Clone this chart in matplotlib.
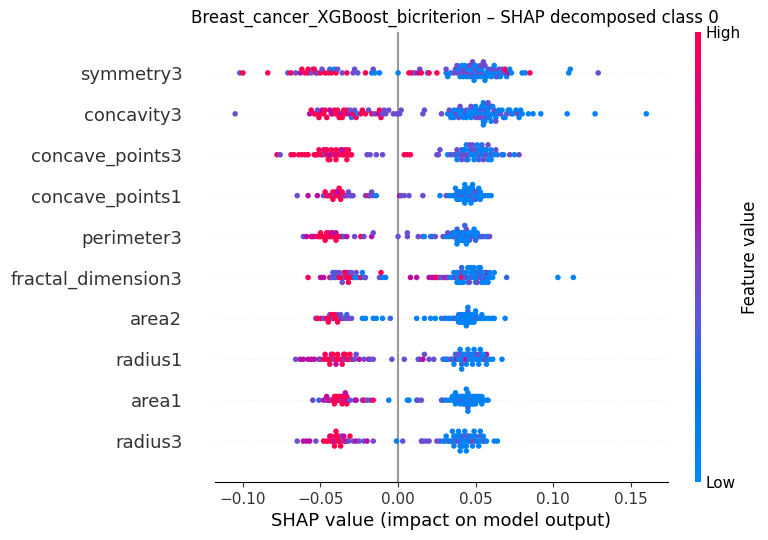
import numpy as np
import matplotlib
matplotlib.use("Agg")
import matplotlib.pyplot as plt
from matplotlib.colors import LinearSegmentedColormap

# Feature names, top to bottom
features = ["symmetry3", "concavity3", "concave_points3", "concave_points1", "perimeter3",
            "fractal_dimension3", "area2", "radius1", "area1", "radius3"]

# SHAP values (x1000) and feature-value colour level (0 = low, 9 = high)
symmetry3_shap = [-102, -100, -84, -71, -69, -66, -63, -62, -60, -58, -56, -55, -53, -52, -50, -49, -45, -44, -43, -41, -40, -36, -33, -29, -28, -26, -21, -17, -16, -15, -12,
                  0, 7, 9, 11, 13, 14, 15, 19, 20, 25, 31, 31, 32, 34, 36, 37, 38, 39, 40, 41, 42, 42, 43, 44, 44, 45, 45, 46, 47, 47, 48, 48, 49, 50, 50, 51, 52, 52, 53, 54, 54, 55, 56, 56, 57, 58, 59, 60, 61, 62, 63, 64, 65, 66, 67, 68, 69, 70, 71, 72, 73, 80, 82, 85, 110, 111, 129,
                  38, 41, 43, 46, 48, 50, 53, 55, 57, 60, 62, 64, 66, -58, -54, -47, -39]
symmetry3_val = [5, 9, 9, 5, 9, 5, 7, 9, 9, 9, 5, 5, 9, 5, 9, 5, 9, 3, 9, 1, 9, 5, 9, 5, 5, 5, 9, 1, 5, 1, 1,
                 1, 9, 9, 5, 7, 5, 9, 1, 9, 9, 1, 5, 1, 1, 5, 5, 5, 1, 1, 5, 5, 1, 5, 5, 1, 5, 1, 1, 5, 1, 3, 1, 1, 1, 5, 1, 5, 1, 1, 5, 1, 1, 5, 1, 1, 3, 1, 5, 1, 5, 1, 1, 5, 1, 5, 5, 9, 1, 7, 1, 1, 1, 1, 9, 1, 1, 5,
                 5, 1, 1, 5, 5, 1, 5, 5, 1, 1, 1, 5, 1, 9, 9, 9, 5]

concavity3_shap = [-105, -57, -56, -54, -53, -52, -50, -49, -48, -47, -43, -42, -41, -40, -39, -37, -35, -34, -33, -32, -31, -30, -29, -28, -27, -26, -24, -23, -21, -19, -17, -15, -13, -12, -11, -10, -9, -8, -6, -3, -1, 1, 2,
                   16, 17, 28, 32, 33, 34, 35, 36, 37, 38, 39, 40, 41, 42, 43, 44, 45, 46, 47, 48, 49, 50, 51, 52, 53, 53, 54, 54, 55, 55, 56, 56, 57, 57, 58, 58, 59, 60, 60, 61, 62, 63, 64, 66, 67, 68, 70, 71, 73, 74, 76, 77, 79, 80, 84, 87, 92, 109, 127, 160,
                   36, 40, 44, 47, 50, 52, 55, 56, 58, 61, 63, 65, 69, 72, 78, -51, -46, -44, -38, -36]
concavity3_val = [5, 7, 9, 9, 9, 5, 9, 7, 9, 9, 9, 7, 9, 9, 9, 7, 9, 9, 9, 7, 5, 3, 9, 5, 9, 1, 9, 9, 9, 5, 9, 5, 7, 9, 9, 5, 5, 5, 5, 5, 5, 5, 5,
                  5, 5, 5, 1, 5, 1, 1, 1, 5, 1, 5, 1, 1, 1, 3, 5, 1, 1, 1, 1, 1, 5, 1, 1, 1, 3, 5, 1, 1, 1, 1, 3, 5, 1, 1, 1, 1, 5, 1, 1, 5, 1, 1, 5, 1, 1, 5, 1, 5, 1, 1, 5, 1, 1, 1, 1, 1, 1, 1, 1,
                  1, 5, 1, 5, 1, 5, 1, 1, 5, 1, 5, 1, 1, 1, 1, 9, 9, 7, 9, 9]

concave_points3_shap = [-78, -76, -69, -67, -64, -62, -60, -58, -54, -53, -52, -50, -49, -48, -47, -46, -46, -45, -44, -43, -42, -41, -40, -39, -38, -37, -36, -35, -34, -33, -32, -31, -30, -20, -18, -14, -10, 4, 6, 8,
                        25, 26, 27, 32, 34, 36, 37, 38, 39, 40, 41, 41, 42, 43, 43, 44, 44, 45, 46, 47, 47, 48, 49, 49, 50, 50, 51, 52, 52, 53, 53, 54, 55, 55, 56, 57, 57, 58, 59, 60, 61, 62, 64, 67, 68, 72, 75, 78,
                        38, 42, 45, 46, 48, 51, 54, 56, 58, 60, 63, -51, -47, -44, -40, -36, -33]
concave_points3_val = [9, 5, 9, 9, 9, 9, 9, 9, 9, 9, 9, 9, 9, 7, 5, 9, 9, 9, 7, 9, 7, 9, 9, 7, 9, 9, 9, 9, 9, 9, 9, 9, 9, 5, 5, 5, 5, 9, 9, 9,
                       5, 5, 5, 1, 5, 1, 5, 5, 1, 3, 5, 5, 5, 5, 1, 5, 1, 5, 1, 1, 3, 1, 5, 1, 1, 5, 1, 1, 3, 5, 1, 1, 1, 5, 3, 5, 1, 1, 1, 1, 5, 1, 1, 5, 1, 5, 1, 5,
                       1, 1, 1, 5, 5, 1, 3, 1, 5, 1, 5, 9, 9, 9, 9, 7, 9]

concave_points1_shap = [-65, -58, -52, -48, -47, -46, -45, -44, -43, -42, -41, -40, -39, -38, -37, -37, -36, -35, -34, -33, -32, -31, -30, -29, -21, -19, -18, -17, -16, -14,
                        1, 2, 4, 7, 16, 27, 31, 33, 35, 36, 37, 38, 38, 39, 39, 40, 40, 41, 41, 42, 42, 42, 43, 43, 44, 44, 44, 45, 45, 46, 46, 46, 47, 47, 48, 48, 49, 49, 50, 50, 51, 51, 52, 53, 53, 54, 55, 56, 58, 60,
                        37, 39, 41, 43, 45, 47, 48, 50, 52, 49, 44, 46, -42, -40, -38, -36, -39]
concave_points1_val = [5, 7, 7, 5, 9, 9, 9, 7, 9, 9, 5, 9, 9, 9, 9, 9, 9, 5, 9, 5, 5, 5, 5, 5, 5, 9, 5, 5, 5, 1,
                       7, 5, 5, 5, 5, 1, 5, 1, 1, 1, 1, 1, 1, 1, 3, 5, 1, 1, 1, 5, 1, 1, 1, 1, 1, 3, 1, 1, 1, 1, 1, 5, 5, 1, 1, 1, 1, 1, 1, 3, 1, 5, 1, 1, 1, 1, 1, 1, 1, 1,
                       1, 1, 1, 1, 1, 1, 1, 1, 1, 3, 1, 1, 9, 9, 9, 9, 7]

perimeter3_shap = [-61, -59, -56, -55, -54, -52, -51, -50, -49, -48, -47, -46, -45, -44, -43, -42, -42, -41, -40, -39, -37, -36, -35, -33, -28, -24, -22, -17, -16,
                   0, 6, 6, 13, 16, 17, 21, 22, 24, 29, 31, 32, 33, 35, 35, 36, 37, 37, 38, 38, 39, 39, 40, 40, 41, 41, 42, 42, 43, 43, 44, 44, 45, 45, 46, 46, 47, 48, 48, 49, 50, 50, 51, 52, 53, 54, 55, 57, 58, 59,
                   36, 38, 40, 42, 44, 46, 47, 49, 51, 43, 41, 45, -50, -47, -45, -43, -40]
perimeter3_val = [5, 7, 7, 9, 7, 9, 9, 9, 9, 9, 9, 9, 9, 9, 9, 9, 9, 9, 7, 9, 9, 9, 3, 7, 5, 9, 5, 7, 5,
                  5, 5, 5, 5, 5, 1, 5, 1, 5, 5, 1, 5, 1, 1, 3, 5, 1, 1, 1, 3, 5, 1, 1, 1, 1, 3, 1, 1, 1, 1, 1, 5, 5, 1, 1, 1, 1, 5, 1, 1, 1, 3, 1, 1, 5, 1, 5, 1, 1, 5,
                  1, 1, 1, 1, 1, 5, 1, 1, 1, 3, 1, 1, 9, 9, 9, 7, 9]

fractal_dimension3_shap = [-58, -50, -48, -44, -43, -42, -41, -40, -38, -36, -35, -34, -33, -32, -31, -30, -29, -28, -27, -26, -24, -23, -22, -21, -12, -11, -10, -8,
                           8, 12, 20, 22, 24, 25, 27, 29, 31, 32, 34, 36, 37, 38, 39, 40, 41, 42, 43, 44, 44, 45, 46, 47, 48, 49, 50, 51, 52, 53, 54, 54, 55, 56, 57, 58, 59, 60, 61, 62, 70, 103, 113,
                           36, 38, 40, 42, 43, 45, 46, 47, 48, 50, 51, 52, 53, 55, 56, 58, 41, 49, -40, -38, -36, -34, -32]
fractal_dimension3_val = [9, 7, 7, 9, 5, 3, 5, 3, 9, 9, 5, 5, 9, 5, 9, 5, 9, 1, 5, 1, 9, 1, 1, 5, 5, 9, 1, 1,
                          7, 7, 7, 7, 7, 9, 5, 5, 7, 5, 1, 1, 5, 1, 1, 3, 9, 5, 5, 5, 1, 1, 1, 1, 5, 1, 5, 1, 1, 5, 5, 1, 1, 3, 7, 1, 1, 1, 1, 1, 3, 1, 1,
                          1, 1, 1, 1, 1, 1, 5, 1, 1, 1, 5, 1, 1, 1, 1, 1, 3, 1, 5, 5, 5, 9, 9]

area2_shap = [-53, -52, -50, -48, -46, -45, -44, -43, -42, -41, -40, -39, -38, -37, -36, -35, -34, -33, -32, -30, -23, -21, -16, -14, -10, -5,
              12, 17, 21, 24, 28, 30, 31, 33, 35, 36, 37, 38, 39, 40, 40, 41, 41, 42, 42, 43, 43, 44, 44, 45, 45, 46, 46, 47, 47, 48, 48, 49, 50, 51, 52, 53, 54, 54, 55, 57, 59, 61, 62, 69,
              39, 41, 43, 44, 45, 46, 47, 48, 49, 50, 42, 40, -45, -43, -41, -39, -37]
area2_val = [5, 9, 9, 5, 9, 9, 5, 9, 5, 9, 9, 5, 9, 5, 9, 3, 5, 3, 5, 5, 1, 1, 1, 1, 1, 3,
             1, 1, 1, 1, 1, 5, 1, 1, 1, 1, 5, 1, 1, 1, 1, 1, 3, 1, 1, 1, 1, 1, 1, 1, 3, 1, 1, 1, 1, 1, 1, 1, 1, 5, 1, 1, 1, 1, 1, 1, 1, 1, 1, 1,
             1, 1, 1, 1, 1, 1, 1, 1, 1, 1, 1, 1, 9, 9, 9, 9, 5]

radius1_shap = [-66, -63, -61, -58, -56, -54, -51, -50, -48, -46, -45, -44, -43, -42, -41, -40, -39, -37, -36, -35, -34, -33, -32, -31, -30, -29, -28, -27, -25, -22, -19, -18, -16, -4, 4,
                13, 14, 16, 17, 20, 23, 29, 30, 31, 32, 34, 35, 36, 37, 38, 39, 40, 41, 41, 42, 43, 44, 45, 46, 47, 48, 49, 50, 51, 52, 53, 54, 55, 56, 57, 58, 59, 61, 67,
                36, 38, 40, 42, 43, 44, 45, 46, 47, 48, 49, 50, 51, 52, 53, 54, 39, 41, 55, 57, -47, -44, -42, -40, -38, -36, -34]
radius1_val = [5, 7, 7, 7, 7, 7, 7, 5, 9, 9, 9, 9, 7, 9, 5, 9, 9, 9, 7, 9, 5, 9, 9, 9, 5, 9, 5, 5, 7, 5, 7, 5, 5, 5, 5,
               5, 5, 7, 5, 5, 5, 1, 5, 1, 1, 5, 5, 1, 5, 7, 1, 1, 1, 3, 1, 5, 7, 1, 1, 1, 1, 5, 1, 1, 1, 5, 1, 1, 5, 7, 1, 1, 1, 1,
               1, 1, 1, 1, 1, 1, 1, 5, 1, 1, 1, 1, 5, 1, 1, 1, 5, 1, 1, 1, 9, 9, 9, 7, 9, 9, 9]

area1_shap = [-55, -51, -48, -46, -46, -45, -44, -43, -42, -41, -40, -40, -39, -38, -37, -37, -36, -36, -35, -35, -34, -33, -33, -32, -31, -28, -27, -23, -22, -20, -18, -16, -6,
              6, 7, 12, 13, 15, 28, 29, 31, 33, 35, 35, 36, 36, 37, 37, 38, 38, 39, 39, 40, 40, 41, 41, 42, 42, 43, 43, 44, 44, 45, 45, 45, 46, 46, 47, 47, 48, 48, 49, 49, 50, 50, 51, 51, 52, 52, 53, 54, 54, 55, 57, 58,
              40, 42, 44, 46, 48, 50, 43, 47, 45, 49, -41, -39, -38, -36, -34]
area1_val = [5, 3, 7, 5, 7, 9, 7, 5, 9, 9, 9, 9, 9, 9, 9, 9, 5, 9, 7, 9, 9, 9, 9, 7, 5, 5, 7, 5, 9, 5, 5, 9, 1,
             1, 1, 1, 5, 5, 1, 5, 1, 1, 1, 1, 1, 1, 1, 1, 1, 1, 1, 1, 5, 1, 1, 1, 5, 1, 1, 1, 1, 1, 1, 1, 3, 1, 1, 1, 1, 5, 1, 1, 1, 1, 1, 1, 1, 1, 1, 1, 1, 1, 1, 1, 1,
             1, 1, 1, 1, 1, 1, 1, 1, 1, 1, 9, 9, 9, 9, 7]

radius3_shap = [-65, -61, -59, -57, -53, -48, -46, -45, -44, -43, -42, -41, -40, -39, -38, -38, -37, -36, -35, -34, -33, -32, -31, -29, -27, -25, -22, -20, -16, -1, 3,
                15, 16, 18, 20, 25, 27, 29, 30, 31, 32, 33, 34, 35, 36, 36, 37, 38, 39, 40, 40, 41, 41, 42, 42, 43, 44, 44, 45, 46, 47, 48, 49, 50, 51, 52, 53, 54, 55, 56, 57, 62, 64,
                35, 37, 38, 39, 41, 43, 44, 45, 46, 47, 48, 49, 50, 52, 42, 40, 53, 55, -43, -41, -39, -37, -35, -40]
radius3_val = [5, 7, 7, 7, 5, 9, 9, 9, 7, 9, 9, 7, 9, 9, 9, 9, 9, 5, 5, 9, 7, 5, 9, 5, 7, 5, 5, 7, 5, 1, 5,
               5, 5, 5, 5, 5, 5, 1, 1, 1, 1, 5, 1, 1, 1, 1, 5, 1, 5, 1, 1, 1, 1, 1, 3, 1, 5, 1, 1, 1, 1, 5, 1, 5, 1, 1, 5, 1, 1, 5, 1, 1, 1,
               1, 1, 1, 1, 1, 1, 1, 1, 5, 1, 1, 1, 1, 1, 1, 1, 1, 1, 9, 9, 9, 9, 7, 9]

xticks = [-0.10, -0.05, 0.00, 0.05, 0.10, 0.15]
xtick_labels = ["−0.10", "−0.05", "0.00", "0.05", "0.10", "0.15"]

shap_rows = [symmetry3_shap, concavity3_shap, concave_points3_shap, concave_points1_shap, perimeter3_shap,
             fractal_dimension3_shap, area2_shap, radius1_shap, area1_shap, radius3_shap]
val_rows = [symmetry3_val, concavity3_val, concave_points3_val, concave_points1_val, perimeter3_val,
            fractal_dimension3_val, area2_val, radius1_val, area1_val, radius3_val]

# colour level code -> normalized feature value
level_map = {0: 0.0, 1: 0.08, 3: 0.3, 5: 0.42, 7: 0.66, 9: 1.0}

cmap = LinearSegmentedColormap.from_list("red_blue", [
    (0.00, (0/255, 139/255, 251/255)),
    (0.20, (0/255, 117/255, 236/255)),
    (0.35, (85/255, 92/255, 222/255)),
    (0.50, (135/255, 60/255, 195/255)),
    (0.62, (178/255, 15/255, 175/255)),
    (0.78, (215/255, 0/255, 135/255)),
    (1.00, (255/255, 0/255, 82/255)),
])

fig = plt.figure(figsize=(7.68, 5.40), dpi=100)
ax = fig.add_axes([215/768, 1-482/540, 453/768, 450/540])

n = len(features)
row_height = 0.4
for i, (sv, fv) in enumerate(zip(shap_rows, val_rows)):
    pos = n - 1 - i
    shaps = np.array(sv, dtype=float) / 1000.0
    vals = np.array([level_map[v] for v in fv], dtype=float)
    N = len(shaps)
    nbins = 100
    quant = np.round(nbins * (shaps - shaps.min()) / (shaps.max() - shaps.min() + 1e-8))
    inds = np.argsort(quant, kind="stable")
    layer = 0
    last_bin = -1
    ys = np.zeros(N)
    for ind in inds:
        if quant[ind] != last_bin:
            layer = 0
        ys[ind] = np.ceil(layer / 2) * ((layer % 2) * 2 - 1)
        layer += 1
        last_bin = quant[ind]
    ys *= 0.9 * (row_height / np.max(ys + 1))
    ax.axhline(y=pos, color="#cccccc", lw=0.5, dashes=(1, 5), zorder=-1)
    ax.scatter(shaps, pos + ys, c=vals, cmap=cmap, vmin=0, vmax=1, s=16,
               linewidth=0, alpha=1, zorder=3)

ax.axvline(x=0, color="#999999", zorder=-1)
ax.set_xlim(-0.118, 0.174)
ax.set_ylim(-1, n)
ax.set_yticks(range(n))
ax.set_yticklabels(features[::-1], fontsize=13, color="#333333")
ax.set_xticks(xticks)
ax.set_xticklabels(xtick_labels)
ax.tick_params('x', labelsize=11, colors="#333333", labelcolor="#333333")
ax.tick_params('y', length=20, width=0.5, which='major', color="none")
for s in ["right", "top", "left"]:
    ax.spines[s].set_visible(False)
ax.xaxis.set_ticks_position('bottom')
ax.set_xlabel("SHAP value (impact on model output)", fontsize=13)

cax = fig.add_axes([695/768, 1-482/540, 6/768, 450/540])
sm = matplotlib.cm.ScalarMappable(cmap=cmap)
sm.set_array([0, 1])
cb = fig.colorbar(sm, cax=cax, ticks=[0, 1])
cb.set_ticklabels(["Low", "High"])
cb.set_label("Feature value", size=12, labelpad=0)
cb.ax.tick_params(labelsize=11, length=0)
cb.outline.set_visible(False)

fig.text(455/768, 1-18/540, "Breast_cancer_XGBoost_bicriterion – SHAP decomposed class 0",
         ha="center", va="center", fontsize=12)

fig.savefig("out.png", dpi=100)
